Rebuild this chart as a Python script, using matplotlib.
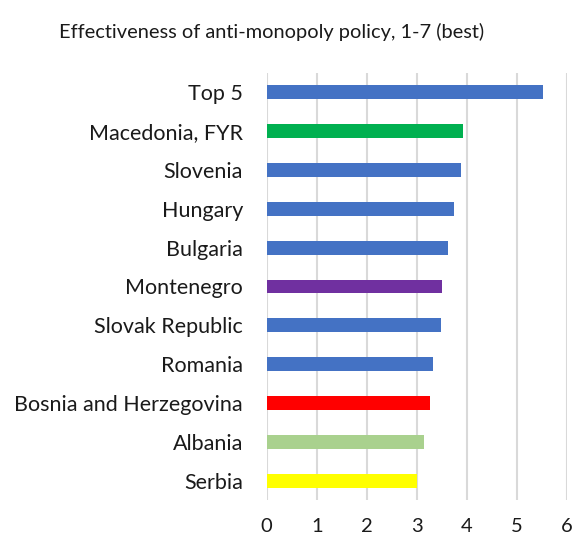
import matplotlib
matplotlib.use("Agg")
import matplotlib.pyplot as plt

categories = ["Top 5", "Macedonia, FYR", "Slovenia", "Hungary", "Bulgaria", "Montenegro",
              "Slovak Republic", "Romania", "Bosnia and Herzegovina", "Albania", "Serbia"]
values = [5.53, 3.92, 3.88, 3.75, 3.63, 3.51, 3.48, 3.33, 3.27, 3.15, 3.01]
colors = ["#4472C4", "#00B050", "#4472C4", "#4472C4", "#4472C4", "#7030A0",
          "#4472C4", "#4472C4", "#FF0000", "#A9D18E", "#FFFF00"]
xticks = [0, 1, 2, 3, 4, 5, 6]
title = "Effectiveness of anti-monopoly policy, 1-7 (best)"

plt.rcParams['font.family'] = ['Lato', 'DejaVu Sans']

fig = plt.figure(figsize=(5.74, 5.40), dpi=100)
ax = fig.add_axes([266.7/574, 1-500/540, 300/574, 427/540])

ypos = list(range(len(categories)))
ax.barh(ypos, values, height=0.36, color=colors, zorder=3)
ax.set_ylim(len(categories)-0.5, -0.5)
ax.set_xlim(0, 6)
ax.set_yticks(ypos)
ax.set_yticklabels(categories, fontsize=15.5, color="#1a1a1a")
ax.set_xticks(xticks)
ax.set_xticklabels([str(t) for t in xticks], fontsize=14.5, color="#1a1a1a")
ax.tick_params(axis='y', length=0, pad=17)
ax.tick_params(axis='x', length=0, pad=13)
ax.xaxis.grid(True, color="#D9D9D9", linewidth=1.5, zorder=0)
for s in ax.spines.values():
    s.set_visible(False)
ax.set_axisbelow(True)

fig.text(271.5/574, 1-32/540, title, ha='center', va='center', fontsize=14.4, color="#1a1a1a")

fig.savefig("out.png", dpi=100)
